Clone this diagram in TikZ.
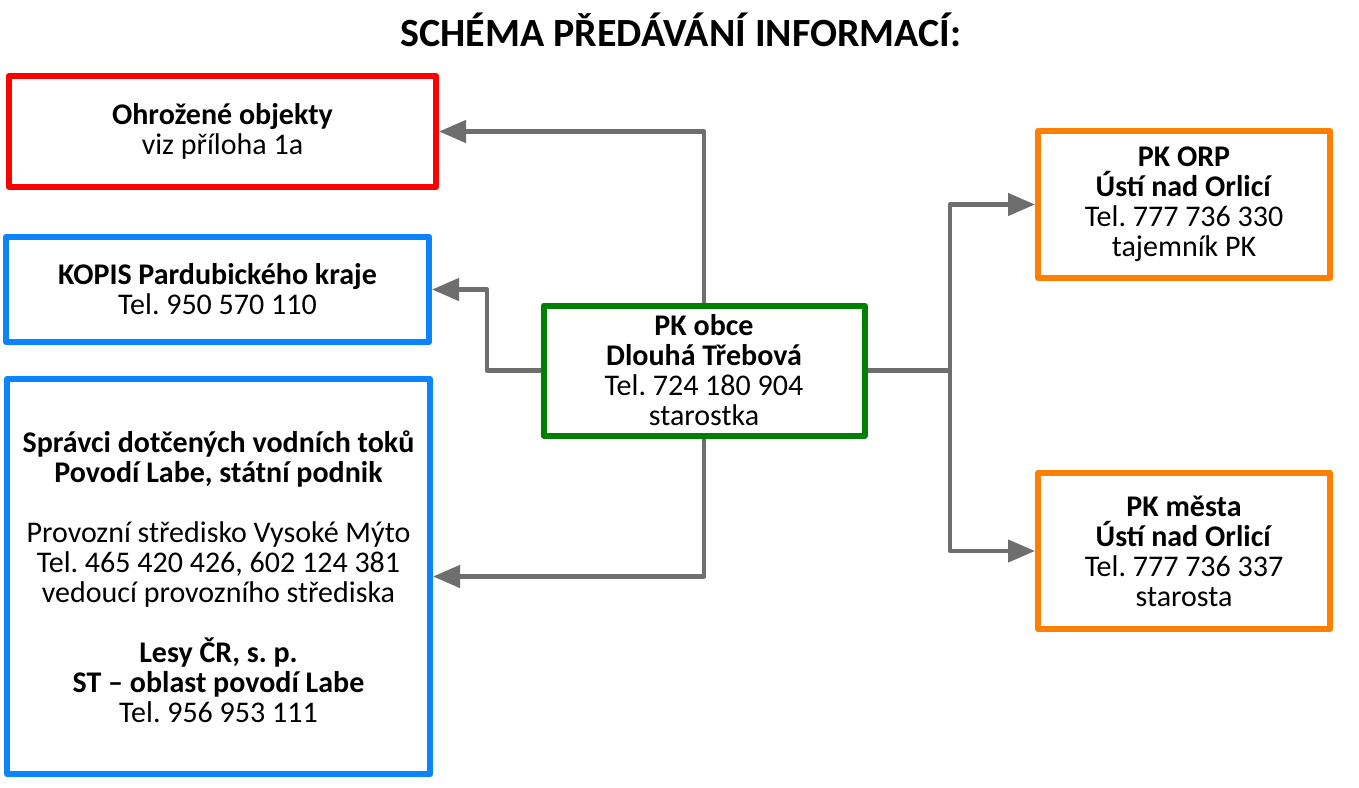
\documentclass[tikz,border=0pt]{standalone}
\usepackage{fontspec}
\setmainfont{Carlito}
\usetikzlibrary{arrows.meta,calc}
\definecolor{cred}{HTML}{FF0000}
\definecolor{cblue}{HTML}{0A84FF}
\definecolor{cgreen}{HTML}{008000}
\definecolor{corange}{HTML}{FF8000}
\definecolor{cgray}{HTML}{6E6E6E}
\tikzset{
  box/.style={draw, line width=6pt, line join=round, fill=white, inner sep=0pt, align=center,
    font=\fontsize{30}{30}\selectfont\frenchspacing},
  conn/.style={draw=cgray, line width=4.5pt, line join=round},
  arr/.style={conn, -{Triangle[length=27pt,width=22pt]}},
}
\begin{document}
\frenchspacing
\begin{tikzpicture}[x=1pt,y=-1pt]
\useasboundingbox (0,0) rectangle (1359,787);
\node[font=\fontsize{40}{40}\selectfont\bfseries, anchor=base] (title) at (681,46) {SCHÉMA PŘEDÁVÁNÍ INFORMACÍ:};
\node[box, draw=cred, minimum width=427pt, minimum height=111pt] (red) at (222.5,131.5)
  {\textbf{Ohrožené objekty}\\viz příloha 1a};
\node[box, draw=cblue, minimum width=423pt, minimum height=105pt] (blue1) at (217.5,289.5)
  {\textbf{KOPIS Pardubického kraje}\\Tel. 950 570 110};
\node[box, draw=cblue, minimum width=423pt, minimum height=395pt] (blue2) at (218.5,576.5)
  {\textbf{Správci dotčených vodních toků}\\\textbf{Povodí Labe, státní podnik}\\[30pt]
   Provozní středisko Vysoké Mýto\\Tel. 465 420 426, 602 124 381\\vedoucí provozního střediska\\[30pt]
   \textbf{Lesy ČR, s. p.}\\\textbf{ST – oblast povodí Labe}\\Tel. 956 953 111};
\node[box, draw=cgreen, minimum width=321pt, minimum height=130pt] (green) at (704,370.5)
  {\textbf{PK obce}\\\textbf{Dlouhá Třebová}\\Tel. 724 180 904\\starostka};
\node[box, draw=corange, minimum width=292pt, minimum height=147pt] (or1) at (1184,204.5)
  {\textbf{PK ORP}\\\textbf{Ústí nad Orlicí}\\Tel. 777 736 330\\tajemník PK};
\node[box, draw=corange, minimum width=292pt, minimum height=156pt] (or2) at (1184,551)
  {\textbf{PK města}\\\textbf{Ústí nad Orlicí}\\Tel. 777 736 337\\starosta};
\coordinate (jl) at (487,370.5);
\coordinate (jr) at (950,370.5);
\draw[arr] (green.north) |- (red.east);
\draw[arr] (green.west) -- (jl) |- (blue1.east);
\draw[arr] (green.south) |- (blue2.east);
\draw[arr] (green.east) -- (jr) |- (or1.west);
\draw[arr] (jr) |- (or2.west);
\end{tikzpicture}
\end{document}
